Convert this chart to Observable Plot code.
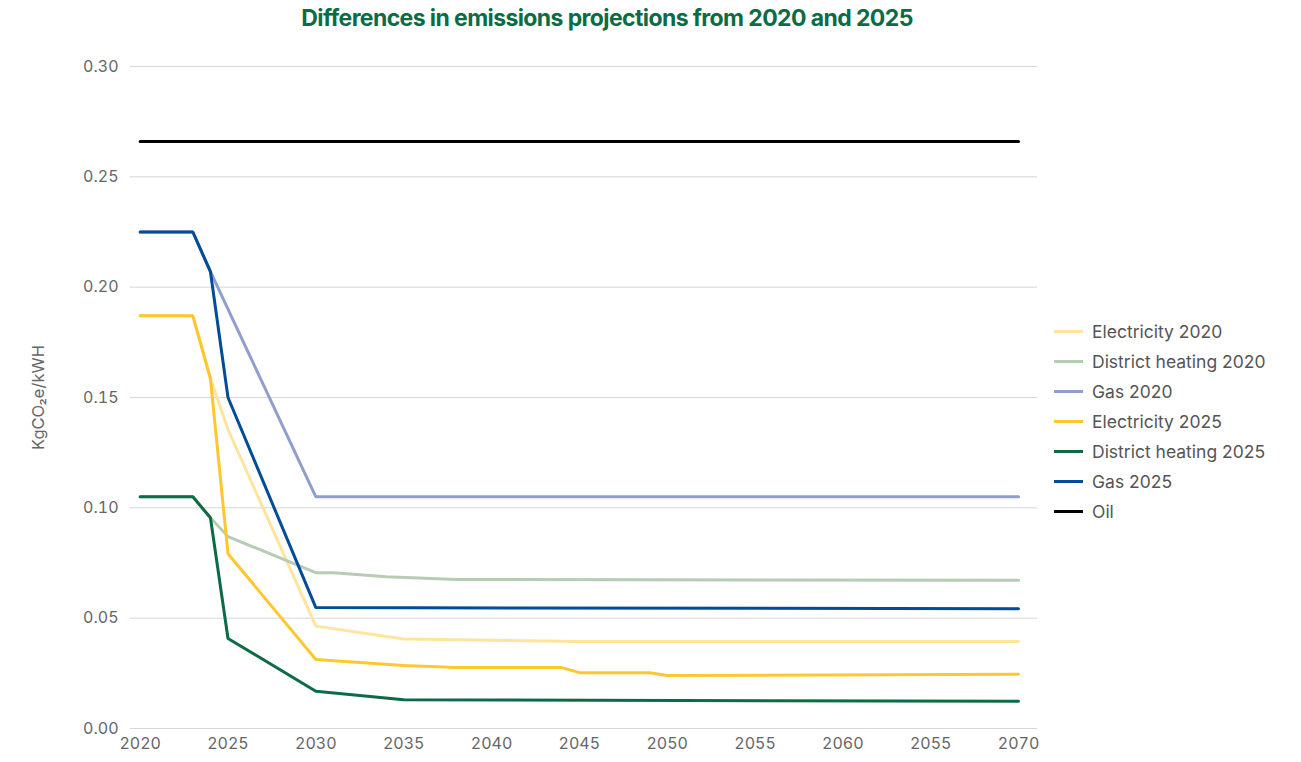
<!DOCTYPE html>
<html>
<head>
<meta charset="utf-8">
<script src="https://cdn.jsdelivr.net/npm/d3@7"></script>
<script src="https://cdn.jsdelivr.net/npm/@observablehq/plot@0.6"></script>
<style>
  html, body { margin: 0; padding: 0; background: #fff; }
  #wrap { position: relative; width: 1301px; height: 762px; font-family: "Inter", "Lato", sans-serif; }
  #title { position: absolute; left: 0; top: 4px; width: 1214px; text-align: center;
    font-size: 23px; font-weight: 700; color: #0b6b45; letter-spacing: -0.6px; }
  #chart { position: absolute; left: 0; top: 40px; }
  #legend { position: absolute; left: 1054px; top: 316px; }
  .item { display: flex; align-items: center; height: 30px; font-size: 17.5px; color: #555; }
  .sw { width: 29px; height: 3px; margin-right: 9px; }
</style>
</head>
<body>
<div id="wrap">
  <div id="title">Differences in emissions projections from 2020 and 2025</div>
  <div id="chart"></div>
  <div id="legend"></div>
</div>
<script>
// Emission factors (kgCO2e per kWh) by projection year
const elec2020Years = [2020, 2023, 2024, 2025, 2030, 2035, 2045, 2070];
const elec2020Values = [0.187, 0.187, 0.1586, 0.1355, 0.0464, 0.0406, 0.0394, 0.0394];

const dh2020Years = [2020, 2023, 2024, 2025, 2030, 2031, 2034, 2038, 2070];
const dh2020Values = [0.105, 0.105, 0.0955, 0.087, 0.0706, 0.0706, 0.0688, 0.0675, 0.0672];

const gas2020Years = [2020, 2023, 2024, 2030, 2070];
const gas2020Values = [0.225, 0.225, 0.207, 0.105, 0.105];

const elec2025Years = [2020, 2023, 2024, 2025, 2030, 2035, 2038, 2044, 2045, 2049, 2050, 2070];
const elec2025Values = [0.187, 0.187, 0.1586, 0.0792, 0.0313, 0.0285, 0.0276, 0.0276, 0.0253, 0.0253, 0.0240, 0.0246];

const dh2025Years = [2020, 2023, 2024, 2025, 2030, 2035, 2070];
const dh2025Values = [0.105, 0.105, 0.0955, 0.0408, 0.0169, 0.0130, 0.0123];

const gas2025Years = [2020, 2023, 2024, 2025, 2030, 2070];
const gas2025Values = [0.225, 0.225, 0.207, 0.150, 0.0548, 0.0543];

const oilYears = [2020, 2070];
const oilValues = [0.266, 0.266];

const seriesNames = ["Electricity 2020", "District heating 2020", "Gas 2020",
  "Electricity 2025", "District heating 2025", "Gas 2025", "Oil"];
const seriesColors = ["#ffe49e", "#b6cdb4", "#8f9ecc", "#ffc72e", "#0b6b45", "#004c97", "#000000"];
const seriesYears = [elec2020Years, dh2020Years, gas2020Years, elec2025Years, dh2025Years, gas2025Years, oilYears];
const seriesValues = [elec2020Values, dh2020Values, gas2020Values, elec2025Values, dh2025Values, gas2025Values, oilValues];

const xTicks = [2020, 2025, 2030, 2035, 2040, 2045, 2050, 2055, 2060, 2065, 2070];
const xTickLabels = ["2020", "2025", "2030", "2035", "2040", "2045", "2050", "2055", "2060", "2055", "2070"];
const yTicks = [0, 0.05, 0.10, 0.15, 0.20, 0.25, 0.30];
const yLabel = "KgCO\u2082e/kWH";

const rows = seriesNames.flatMap((name, s) =>
  seriesYears[s].map((year, i) => ({series: name, year, value: seriesValues[s][i]})));

const lineMarks = seriesNames.map((name, s) =>
  Plot.line(rows.filter(d => d.series === name), {
    x: "year", y: "value", stroke: seriesColors[s], strokeWidth: 3, strokeLinejoin: "miter"
  }));

const chart = Plot.plot({
  width: 1301,
  height: 722,
  marginTop: 26,
  marginBottom: 34,
  marginLeft: 130,
  marginRight: 264,
  style: {fontFamily: "Inter, Lato, sans-serif", fontSize: "16px", color: "#666", background: "#fff"},
  x: {domain: [2019.45, 2071.08], ticks: xTicks, tickFormat: (d, i) => xTickLabels[i], tickSize: 0, tickPadding: 9, label: null},
  y: {domain: [0, 0.30], ticks: yTicks, tickFormat: d => d.toFixed(2), tickSize: 0, tickPadding: 12, label: null},
  marks: [
    Plot.ruleY(yTicks, {stroke: "#d6d6d6", strokeWidth: 1}),
    ...lineMarks,
    Plot.text([yLabel], {frameAnchor: "left", dx: -92, rotate: -90, textAnchor: "middle", fontSize: 16.5, fill: "#666"})
  ]
});
document.getElementById("chart").appendChild(chart);

// Legend entries in series order
const legend = document.getElementById("legend");
seriesNames.forEach((name, s) => {
  const item = document.createElement("div");
  item.className = "item";
  const sw = document.createElement("span");
  sw.className = "sw";
  sw.style.background = seriesColors[s];
  const label = document.createElement("span");
  label.textContent = name;
  item.appendChild(sw);
  item.appendChild(label);
  legend.appendChild(item);
});
</script>
</body>
</html>
